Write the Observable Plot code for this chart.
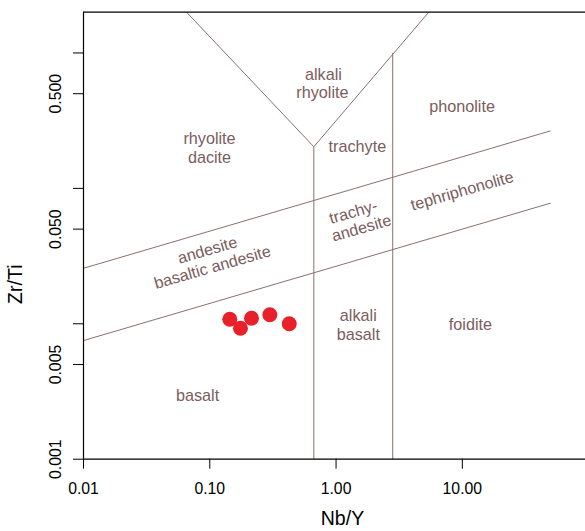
<!DOCTYPE html>
<html><head><meta charset="utf-8">
<script src="https://cdn.jsdelivr.net/npm/d3@7"></script>
<script src="https://cdn.jsdelivr.net/npm/@observablehq/plot@0.6"></script>
<style>body{margin:0;background:#fff}</style>
</head><body><div id="chart"></div>
<script>
// Axis ticks
const xTicks = [0.01, 0.1, 1, 10];
const xTickLabels = ["0.01", "0.10", "1.00", "10.00"];
const yTicks = [0.001, 0.005, 0.01, 0.05, 0.1, 0.5, 1];
const yLabelTicks = [0.001, 0.005, 0.05, 0.5];
const yTickLabels = ["0.001", "0.005", "0.050", "0.500"];

// Samples (Nb/Y, Zr/Ti)
const sampleNbY = [0.144, 0.175, 0.214, 0.299, 0.426];
const sampleZrTi = [0.0108, 0.00927, 0.0110, 0.01167, 0.0100];

// Field boundaries (segments)
const bx1 = [0.0655, 0.667, 0.667, 2.81, 0.01, 0.01];
const by1 = [2.0, 0.203, 0.203, 1.0, 0.0257, 0.00752];
const bx2 = [0.667, 5.42, 0.667, 2.81, 50, 50];
const by2 = [0.203, 2.0, 0.001, 0.001, 0.266, 0.0778];

// Field labels
const fieldText = ["alkali", "rhyolite", "rhyolite", "dacite", "phonolite", "trachyte",
  "trachy-", "andesite", "tephriphonolite", "andesite", "basaltic andesite",
  "alkali", "basalt", "foidite", "basalt"];
const fieldNbY = [0.794, 0.780, 0.0995, 0.0995, 9.95, 1.476,
  1.37, 1.59, 9.95, 0.0959, 0.105,
  1.50, 1.50, 11.6, 0.080];
const fieldZrTi = [0.690, 0.508, 0.232, 0.168, 0.400, 0.202,
  0.0667, 0.0508, 0.0955, 0.0349, 0.0261,
  0.0115, 0.00833, 0.00988, 0.00294];
const fieldAngle = [0, 0, 0, 0, 0, 0, -16, -16, -16, -16, -16, 0, 0, 0, 0];

const segs = bx1.map((d, i) => ({x1: d, y1: by1[i], x2: bx2[i], y2: by2[i]}));
const samples = sampleNbY.map((d, i) => ({x: d, y: sampleZrTi[i]}));
const fields = fieldText.map((t, i) => ({t, x: fieldNbY[i], y: fieldZrTi[i], a: fieldAngle[i]}));
const xLabelMap = new Map(xTicks.map((d, i) => [d, xTickLabels[i]]));
const yLabels = yLabelTicks.map((d, i) => ({y: d, t: yTickLabels[i]}));

const lineColor = "#8b6f6f";
const textColor = "#7b5d5d";
const font = "Liberation Sans, Arial, Helvetica, sans-serif";

const chart = Plot.plot({
  width: 585,
  height: 531,
  marginLeft: 83,
  marginRight: 0,
  marginTop: 11.7,
  marginBottom: 72.3,
  style: {fontFamily: font, background: "#fff", color: "#000"},
  x: {type: "log", domain: [0.01, 94.5]},
  y: {type: "log", domain: [0.001, 2]},
  marks: [
    Plot.link(segs, {x1: "x1", y1: "y1", x2: "x2", y2: "y2", stroke: lineColor, strokeWidth: 1}),
    Plot.ruleY([2], {stroke: "#000", strokeWidth: 1.2}),
    Plot.ruleY([0.001], {stroke: "#000", strokeWidth: 1.2}),
    Plot.ruleX([0.01], {stroke: "#000", strokeWidth: 1.2}),
    Plot.axisX({ticks: xTicks, tickFormat: d => xLabelMap.get(d), tickSize: 10, tickPadding: 14,
      fontSize: 15.8, label: null, stroke: "#000", fill: "#000"}),
    Plot.axisY({ticks: yTicks, tickFormat: () => "", tickSize: 10, label: null, stroke: "#000"}),
    Plot.text(yLabels, {y: "y", text: "t", frameAnchor: "left", dx: -28, textAnchor: "middle",
      lineAnchor: "middle", rotate: -90, fontSize: 15.8, fill: "#000"}),
    Plot.text(fields, {x: "x", y: "y", text: "t", rotate: "a", fill: textColor, fontSize: 16.2}),
    Plot.dot(samples, {x: "x", y: "y", r: 7.5, fill: "#e8202a", stroke: "none"}),
    Plot.text(["Nb/Y"], {x: 1.124, frameAnchor: "bottom", dy: 59.3, textAnchor: "middle",
      lineAnchor: "middle", fontSize: 19.5, fill: "#000"}),
    Plot.text(["Zr/Ti"], {y: 0.0196, frameAnchor: "left", dx: -68, textAnchor: "middle",
      lineAnchor: "middle", rotate: -90, fontSize: 19.5, fill: "#000"})
  ]
});
document.getElementById("chart").appendChild(chart);
</script>
</body></html>
